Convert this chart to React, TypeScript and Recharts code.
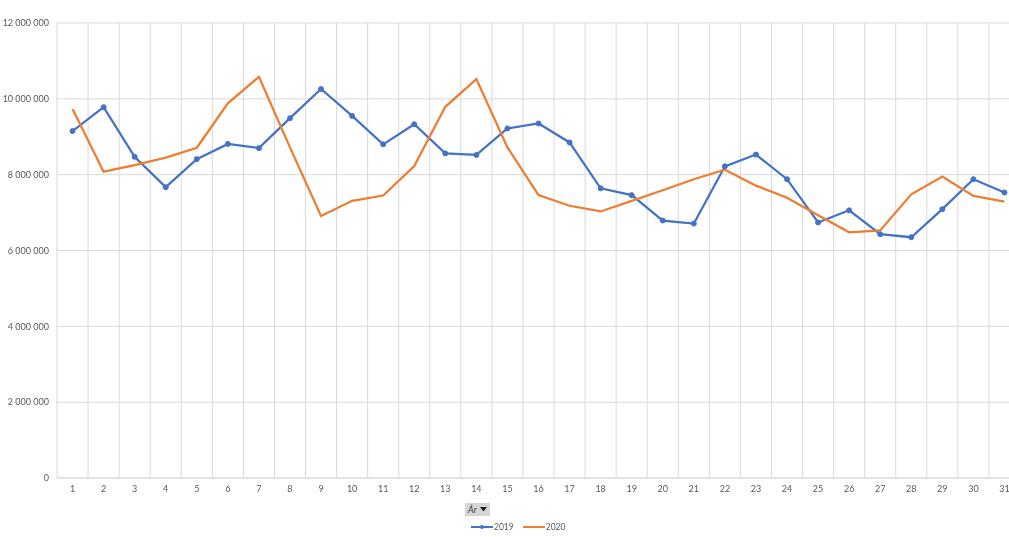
import React from 'react';
import { LineChart, Line, XAxis, YAxis, CartesianGrid, Legend } from 'recharts';

const days = [1, 2, 3, 4, 5, 6, 7, 8, 9, 10, 11, 12, 13, 14, 15, 16, 17, 18, 19, 20, 21, 22, 23, 24, 25, 26, 27, 28, 29, 30, 31];

const sales2019 = [
  9150000, 9780000, 8470000, 7670000, 8410000, 8810000, 8700000, 9490000, 10260000, 9550000,
  8800000, 9330000, 8560000, 8520000, 9220000, 9350000, 8850000, 7640000, 7460000, 6790000,
  6710000, 8220000, 8530000, 7880000, 6740000, 7060000, 6430000, 6350000, 7090000, 7880000, 7530000,
];

const sales2020 = [
  9730000, 8080000, 8250000, 8450000, 8710000, 9880000, 10580000, 8720000, 6910000, 7310000,
  7450000, 8230000, 9790000, 10520000, 8720000, 7460000, 7180000, 7030000, 7310000, 7590000,
  7880000, 8130000, 7710000, 7390000, 6930000, 6480000, 6530000, 7480000, 7950000, 7440000, 7290000,
];

const yTicks = [0, 2000000, 4000000, 6000000, 8000000, 10000000, 12000000];
const gridBounds = [0.5, ...days.map((d) => d + 0.5)];

const seriesNames = ['2019', '2020'];
const seriesColors = ['#4472C4', '#ED7D31'];
const filterLabel = 'År';

const data = days.map((d, i) => ({ day: d, y2019: sales2019[i], y2020: sales2020[i] }));

const fmt = (v: number) => String(v).replace(/\B(?=(\d{3})+(?!\d))/g, '\u00A0');

const FONT = 'Lato, "Liberation Sans", sans-serif';
const TEXT = '#595959';

const renderLegend = (props: any) => {
  const payload = props.payload || [];
  return (
    <div style={{ position: 'relative', height: 34, width: '100%', fontFamily: FONT }}>
      <div
        style={{
          position: 'absolute',
          left: 457,
          top: 0,
          width: 25,
          height: 13,
          background: '#d6d6d6',
          display: 'flex',
          alignItems: 'center',
          justifyContent: 'center',
          fontSize: 9,
          color: '#333',
          gap: 3,
        }}
      >
        <span style={{ fontStyle: 'italic' }}>{filterLabel}</span>
        <svg width={7} height={5}>
          <polygon points="0,0 7,0 3.5,4.5" fill="#222" />
        </svg>
      </div>
      <div
        style={{
          position: 'absolute',
          left: 463,
          top: 19,
          display: 'flex',
          alignItems: 'center',
          fontSize: 8.5,
          color: TEXT,
          whiteSpace: 'nowrap',
        }}
      >
        {payload.map((entry: any, i: number) => (
          <div key={i} style={{ display: 'flex', alignItems: 'center', marginRight: 9 }}>
            <svg width={22} height={8} style={{ marginRight: 1 }}>
              <line x1={0} y1={4} x2={22} y2={4} stroke={entry.color} strokeWidth={2} />
              {entry.dataKey === 'y2019' ? <circle cx={11} cy={4} r={2} fill={entry.color} /> : null}
            </svg>
            <span>{entry.value}</span>
          </div>
        ))}
      </div>
    </div>
  );
};

export default function App() {
  return (
    <div style={{ position: 'fixed', left: 0, top: 8, width: 1009, height: 529, overflow: 'hidden' }}>
      <LineChart
        width={1028}
        height={529}
        data={data}
        margin={{ top: 15, right: 8, bottom: 0, left: 8 }}
        style={{ fontFamily: FONT }}
      >
        <CartesianGrid xAxisId="grid" stroke="#d9d9d9" strokeWidth={1} />
        <XAxis
          dataKey="day"
          type="number"
          domain={[0.5, 31.5]}
          ticks={days}
          interval={0}
          axisLine={{ stroke: '#d9d9d9' }}
          tickLine={false}
          height={25}
          tick={{ fontSize: 9, fill: TEXT }}
        />
        <XAxis
          xAxisId="grid"
          dataKey="day"
          type="number"
          domain={[0.5, 31.5]}
          ticks={gridBounds}
          interval={0}
          hide
        />
        <YAxis
          domain={[0, 12000000]}
          ticks={yTicks}
          axisLine={false}
          tickLine={false}
          width={49}
          tickFormatter={fmt}
          tick={{ fontSize: 9, fill: TEXT }}
        />
        <Legend verticalAlign="bottom" content={renderLegend} wrapperStyle={{ left: 8 }} />
        <Line
          dataKey="y2019"
          name={seriesNames[0]}
          stroke={seriesColors[0]}
          strokeWidth={2.25}
          dot={{ r: 2.5, fill: seriesColors[0], stroke: seriesColors[0], strokeWidth: 1 }}
          isAnimationActive={false}
        />
        <Line
          dataKey="y2020"
          name={seriesNames[1]}
          stroke={seriesColors[1]}
          strokeWidth={2.25}
          dot={false}
          isAnimationActive={false}
        />
      </LineChart>
    </div>
  );
}
